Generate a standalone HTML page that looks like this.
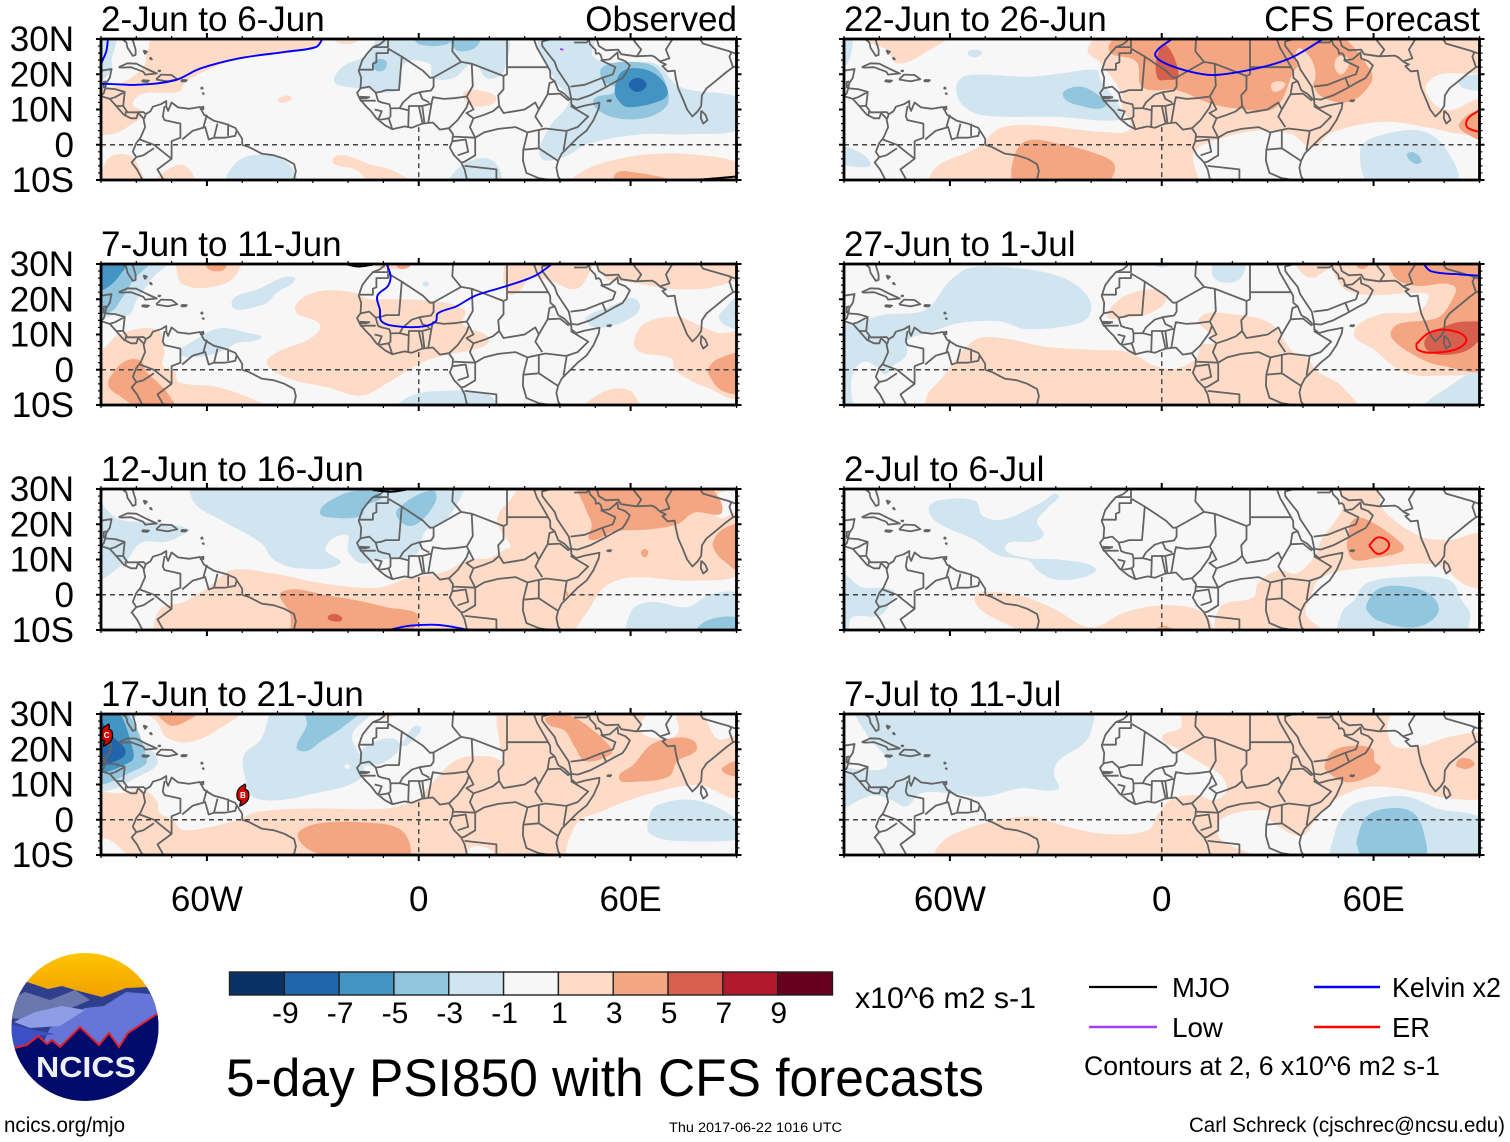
<!DOCTYPE html>
<html lang="en">
<head>
<meta charset="utf-8">
<title>5-day PSI850 with CFS forecasts</title>
<style>
html,body{margin:0;padding:0;background:#fff;}
svg{display:block;}
text{font-family:"Liberation Sans",Arial,sans-serif;fill:#000;}
</style>
</head>
<body>
<svg id="chart" xmlns="http://www.w3.org/2000/svg" width="1510" height="1142" viewBox="0 0 1510 1142">
  <defs id="defs">
    <clipPath id="logo-clip"><ellipse cx="85" cy="1027" rx="73.5" ry="74"/></clipPath>
    <linearGradient id="logo-sky-gradient" x1="0" y1="0" x2="0" y2="1">
      <stop offset="0" stop-color="#ffc800"/>
      <stop offset="1" stop-color="#f2a000"/>
    </linearGradient>
  </defs>
  <rect width="1510" height="1142" fill="#fff"/>
  <g id="panels"></g>
  <g id="colorbar"></g>

  <g>
    <g clip-path="url(#logo-clip)">
      <rect x="10" y="950" width="150" height="48" fill="url(#logo-sky-gradient)"/>
      <path d="M10 980 L27 982 L48 989 L62 986 L75 990 L102 997 L126 988 L148 987 L160 990 V1060 H10 Z" fill="#2f3f8e"/>
      <path d="M10 1000 L25 992 L50 1000 L75 990 L90 1000 L62 1012 L30 1020 L10 1018 Z" fill="#6b78ae"/>
      <path d="M50 1028 L85 1008 L104 1006 L126 992 L150 994 L160 1010 V1050 H40 Z" fill="#6676d8"/>
      <path d="M14 1022 L35 1012 L62 1006 L85 1010 L60 1026 L30 1028 Z" fill="#8f9ce6"/>
      <path d="M10 1024 L35 1030 L55 1034 L40 1036 L27 1045 L10 1050 Z" fill="#3a4fc8"/>
      <path d="M10 1049 L14.5 1048 L27 1045 L38 1036 L47 1044 L52 1040 L60 1047 L80 1027 L99 1045 L109 1033 L119 1047 L128 1033 L160 1012 V1102 H10 Z" fill="#000b6b"/>
      <path d="M10 1049 L14.5 1048 L27 1045 L38 1036 L47 1044 L52 1040 L60 1047 L80 1027 L99 1045 L109 1033 L119 1047 L128 1033 L160 1012" fill="none" stroke="#e0202a" stroke-width="2"/>
    </g>
    <text x="36" y="1077" font-size="29" font-weight="bold" style="fill:#eef0f6" textLength="100" lengthAdjust="spacingAndGlyphs">NCICS</text>
  </g>

  <text x="855" y="1008" font-size="30" textLength="181" lengthAdjust="spacingAndGlyphs">x10^6 m2 s-1</text>
  <text x="226" y="1096" font-size="53" textLength="758" lengthAdjust="spacingAndGlyphs">5-day PSI850 with CFS forecasts</text>

  <g>
    <line x1="1089" y1="987" x2="1157" y2="987" stroke="#000" stroke-width="2.2"/>
    <text x="1172" y="997" font-size="28" textLength="58" lengthAdjust="spacingAndGlyphs">MJO</text>
    <line x1="1089" y1="1027" x2="1157" y2="1027" stroke="#a040f0" stroke-width="2.6"/>
    <text x="1172" y="1037" font-size="28" textLength="51" lengthAdjust="spacingAndGlyphs">Low</text>
    <line x1="1314" y1="987" x2="1380" y2="987" stroke="#0000ff" stroke-width="2.4"/>
    <text x="1392" y="997" font-size="28" textLength="109" lengthAdjust="spacingAndGlyphs">Kelvin x2</text>
    <line x1="1314" y1="1027" x2="1380" y2="1027" stroke="#ff0000" stroke-width="2.4"/>
    <text x="1392" y="1037" font-size="28" textLength="38" lengthAdjust="spacingAndGlyphs">ER</text>
    <text x="1084" y="1075" font-size="27" textLength="356" lengthAdjust="spacingAndGlyphs">Contours at 2, 6 x10^6 m2 s-1</text>
  </g>

  <text x="4" y="1132" font-size="21" textLength="121" lengthAdjust="spacingAndGlyphs">ncics.org/mjo</text>
  <text x="669" y="1132" font-size="13.5" textLength="173" lengthAdjust="spacingAndGlyphs">Thu 2017-06-22 1016 UTC</text>
  <text x="1189" y="1132" font-size="21" textLength="316" lengthAdjust="spacingAndGlyphs">Carl Schreck (cjschrec@ncsu.edu)</text>
</svg>

<script>
// ---------- colour scale ----------
const colorbarColors = ['#0a3163','#2166ac','#4393c3','#92c5de','#d1e5f0','#f7f7f7','#fddbc7','#f4a582','#d6604d','#b2182b','#67001f'];
const colorbarLabels = ['-9','-7','-5','-3','-1','1','3','5','7','9'];

// ---------- axis ticks ----------
const xMajorTicks = [-60, 0, 60];
const xMajorLabels = ['60W', '0', '60E'];
const yMajorTicks = [30, 20, 10, 0, -10];
const yMajorLabels = ['30N', '20N', '10N', '0', '10S'];

// ---------- geography (lon,lat pairs) ----------
const coastlines = [
 [-10,31,-9.8,29.5,-11,28.5,-13,27.7,-14.5,26,-16,24,-17,21,-16.3,19,-16.5,16,-17.5,14.7,-16.7,13,-15,11,-13.5,9.5,-12,7.5,-9.5,5.5,-7.5,4.4,-4,5.2,-2,4.8,1,6,4,6.3,6,4.3,8.5,4.7,9.7,3,9.5,1,8.8,-0.8,10,-3,12,-5,13,-7,13.8,-10.5],
 [32.6,30,33.5,27.5,35.5,24,37.2,21,37.3,19,38.5,18,39.5,15.5,41.2,14.5,43.2,12.5,43.2,11.5,44.5,10.4,47,11.1,51.2,11.9,51,10.4,49.5,7,47.5,4,45,2,42.5,-0.5,40.5,-2.5,39.5,-4.5,39,-6.5,39.5,-9,40.5,-10.5],
 [34.9,29.5,35,28,36.5,26,38.5,23.5,39.2,21.5,40.5,19.5,42.5,16.5,43.2,13,45,12.8,48.5,14,52,15.8,55,17.5,57.7,18.9,58.8,20.5,59.8,22.5,58.5,23.7,56.5,24.5,56.3,26.2,55.5,25.5,54,24.2,52,24,51.5,25.5,51,26,50.2,25.8,50,27,48.5,28.5,48,30.5],
 [49,30.5,50.5,29.8,51,28,53,26.8,56.5,27,57.3,25.7,61.5,25.1,66,25.3,67,24.8,68.5,23.5,70,22.8,69,22.3,70.5,20.8,72.5,21,72.8,19,73.5,16,74.8,13,76,10,77.5,8,79,9.5,80,11,80.2,14,81.5,16,84,18,87,20.5,89,22,91,22.5],
 [80,9.7,81.2,8.5,81.8,7,80.6,6,79.9,7.5,80,9.7],
 [53.4,12.6,54.5,12.6,54.2,12.3,53.4,12.4,53.4,12.6],
 [-81.4,31,-80.2,27,-80.2,25.5,-81,25.2,-82.5,27.5,-82.8,29,-84,30,-86,30.5],
 [-90,21,-87,21.5,-87.5,19,-88.5,17.5,-88.8,16,-86,15.8,-83.3,15,-83.7,11,-82.5,9.2,-80,9.2,-78,9.3,-77.3,8.7,-76,9.5,-75.3,10.8,-73,11.5,-71.5,12.4,-71.5,10.8,-71,9.6,-70,12,-68.2,10.6,-65,10.2,-62,10.7,-60.8,8.5,-58,6.8,-55,6,-52,4.8,-50,1.7,-50,0,-48,-0.7,-44.5,-2.5,-41,-3,-38,-4,-35.3,-5.5,-34.8,-7.5,-35.5,-10.5],
 [-92,14.6,-90,13.8,-87.5,13,-85.7,11,-83.5,8.5,-81.5,7.5,-80,7.5,-79.5,9,-78,7.5,-77.5,5,-78.8,2,-80,0.5,-81,-2,-80,-3.5,-81.3,-5,-79.8,-7,-78.5,-9.5,-78,-10.5],
 [-85,22,-82.5,23.1,-80,23,-77,21.5,-74.2,20.2,-77.5,19.9,-78,20.7,-81.5,22,-84,21.9,-85,22],
 [-74.4,18.5,-73,19.9,-70,19.8,-68.4,18.6,-71,18,-72,18.1,-74.4,18.5],
 [-78.3,18.3,-76.4,18.2,-77,17.8,-78.3,18,-78.3,18.3],
 [-67.2,18.4,-65.7,18.3,-66,18,-67.2,18,-67.2,18.4],
 [-61.5,16.4,-61.2,16,-61.6,15.9,-61.5,16.4],
 [-61,14.8,-60.9,14.4,-61.2,14.5,-61,14.8],
 [-61.8,10.6,-61,10.8,-61,10.1,-61.8,10.1,-61.8,10.6],
 [-78,26.8,-77,26.4,-77.5,25.8,-78,26.8],
 [-76,24.8,-75.6,24.2,-76.1,24.4,-76,24.8],
 [-73.9,21,-73.2,21,-73.4,20.8,-73.9,21]
];
const borders = [
 [-8.7,31,-8.7,27.7,-13,27.7],
 [-8.7,27.3,-8.7,26,-12,26,-12,23.4,-13,23,-13,21.3,-17,21.3],
 [-8.7,27.3,-4.8,25,-5.6,15.5,-9.3,15.5,-10.8,15,-12.2,14.8,-14,16.5,-16.5,16],
 [-4.8,25,1.2,21,3.2,19,4.2,19.1,12,23.5,9.5,26.5,9.8,31],
 [4.2,19.1,4.2,16.5,3.5,15.4,0.2,14.9,-2,14.2,-4.5,12,-5.4,10.4,-8,10.3,-8.3,11.5,-10.5,12,-11.5,12.4,-12.2,14.8],
 [3.6,11.7,4,13.5,7,13,10,13.2,13.6,13.7,15.3,16.7,15,23,12,23.5],
 [15,23,24,19.5,24,15.7,22.5,14,22.8,11,21,9.5,18.5,8.5,15.5,7.5,14.5,5,16,2,18.5,3.5,22.5,4.5,27.4,5,30.8,3.5,34,4.2,35.9,4.6],
 [24,19.5,25,20,25,31],
 [25,22,36.9,22],
 [13.6,13.7,14.5,12,15.5,10,13.5,9,15.5,7.5],
 [22.8,11,24,9,27,9.5,30,10,33,12,34,10,33,8,35,5],
 [34,10,36.5,14.3,37,17.5,38.5,18],
 [36.5,14.3,40,14.5,42.5,12.5],
 [43,11,48,8,45,5,42,4,41.9,3.9,35.9,4.6],
 [41.9,3.9,41,-1.7],
 [34,-1,39.5,-4.6],
 [34,4.2,34,-1,29.6,-1.4,30.8,3.5],
 [9.8,2.3,16,2,16,-3,13,-4.8,12.2,-5],
 [13,-6,22,-7,22,-10.5],
 [29.6,-1.4,29.5,-4.5,30.5,-8,34,-9.5,40.5,-10.5],
 [2.7,6.3,3.6,11.7],
 [1.6,6.2,1,11],
 [1.1,6,0,11],
 [-3,5,-2.8,11,1,11,3.6,11.7],
 [0.2,14.9,1,13,3,12],
 [-7.5,4.4,-8.5,7.5,-11.5,7],
 [-12.5,10,-10.5,9.5,-11.5,7],
 [-8,10.3,-8,8,-8.5,7.5],
 [-5.4,10.4,-3,9.8],
 [8.6,4.7,11,7,13.5,10.5,14.2,12.5],
 [-16.7,12.5,-12.2,12.5],
 [-16.7,13.6,-14,13.5,-15,13.2,-16.7,13.2],
 [9.7,1,13.3,1.5,14,-2,11,-3],
 [43,16.5,47,17,52,19,55,20,55.7,22,51.5,24],
 [52,19,53,16.5],
 [35,29.3,37.5,30,39,31],
 [44,29,47.5,29,48,29.5],
 [61.7,25,63,27,61,29.5,62,31],
 [68.5,23.7,71,24.5,70,27,72.5,31],
 [79,31,80.5,28.7,88,26.5,88.5,26,88,25,89,22],
 [88,26.5,92,25],
 [-72,11,-72.5,8,-72,7,-67.5,6,-67.5,2,-70,1,-70,-4,-74,-7,-72,-10.5],
 [-67,1.5,-64,4,-60.5,5,-59.5,1.5,-58,2,-55,2,-52,2.5,-51.5,4.3],
 [-57,6,-58,2],
 [-54,6,-54,2.5],
 [-60,8.5,-61,5],
 [-79,1.5,-75,0,-70,-4],
 [-80,-3.5,-78,-3,-75,-1],
 [-83.3,15,-86,13.5,-87.5,13],
 [-85.7,11,-83.7,11],
 [-83,9.5,-83,8.5],
 [-77.3,8.7,-77.8,7.3],
 [-88.8,16,-89.2,14.6,-90,13.8],
 [-88.5,18,-89.2,17.8,-89.2,16],
 [-92,18,-91,17,-91,16,-92,15.5]
];

// ---------- PSI850 filled contours: [value, lon,lat, lon,lat, ...] ----------
const field2Jun = [
 [2,-74,32,-26,32,-32,27,-51,24.5,-66,18,-68,15,-78,14.5,-81,11.5,-78,9,-81,6,-87,3,-92,4,-92,14.5,-85,17,-78,22,-77,26],
 [2,-25,32,-16,32,-18,29,-23,29],
 [2,-89,-12,-88,-4,-82,-3,-79,-7,-78,-12],
 [2,-75,-12,-71,-7,-66,-6,-64,-12],
 [2,-24,-3.5,-21,-3,-14,-5.5,-7,-7.5,-2,-12,-12,-12,-18,-7,-24,-5.5],
 [2,-39,13.5,-37,14,-36,13,-38,12,-40,12.5],
 [2,13,15,19,15,22,13,19,11,14,11.5],
 [2,41,-12,44,-9,51,-5.5,64,-2.8,78,-2.8,92,-6,92,-12],
 [4,56,-12,56,-8,62,-8,70,-9.5,78,-12],
 [-2,-92,32,-86,32,-87,24,-87,21,-92,18],
 [-2,-24,18.8,-21,22.6,-14.5,25.4,-10,32,24,32,24,20.7,19.5,18.8,15.5,23,10,19,4,19,3,23,-4,23,-6,15.5,-16.5,16,-23,17],
 [-2,34.5,32,49.5,32,49.5,25,57.5,23,67,23,74,16.4,92,12.6,92,5,76.6,3,63,3,48,0.3,41,-3.5,34.5,-3.5,37,5,42.6,12.6,38.5,18.3],
 [-2,-54,-12,-51,-4.5,-42,-3,-36,-6.4,-35,-12],
 [-2,9,-12,12.7,-5.5,21,-4.5,22.5,-12],
 [-4,52,18.3,52,22,59,23.5,67,22,70.5,15.5,70,10.7,63,7.4,53.5,8.3,49.5,12.6,56,15.5],
 [-4,9,32,17,32,16.5,28,12,26.5,9.5,28],
 [-4,-1,31,9,31,8,28.5,0,28.5],
 [-4,-13,23.5,-9.5,24,-9.5,21.5,-12,21],
 [-6,55.5,15.5,57.5,20.7,63,21.6,68,19.3,70.5,14.5,67,12,59,10.7,56.5,12.6],
 [-8,59.5,17,62,19,64.5,17,62,15]
];
const field7Jun = [
 [2,-68,32,-51,32,-52.5,26,-60,23.3,-67,24.3,-68.5,28],
 [2,-35,17,-29.4,22,-18.8,22,-14,20,-9.3,20,3.7,19.5,13,17,12.5,12.8,19,9.9,19.6,7.5,15,5.6,9.6,4.6,1.3,2.2,-9.3,-4,-16.4,-7.4,-25.8,-5,-36.4,-2.6,-43,1.7,-40,5,-30.5,9,-28,12.8],
 [2,26,32,48.5,32,47,25,43.7,22.8,38,25,32,26,28.4,22.3,25.5,21.4,24,26],
 [2,51,32,53,26,59,25,68.5,23.3,73,22.8,82.7,23.3,92,27,92,32],
 [2,61,8,64,13.2,73.2,15,79,12.8,85,10.4,92,10,92,-7.4,81.5,-5,72.6,-0.2,71.5,3.2,62.6,5],
 [2,-92,6,-89.3,6,-85,10,-74,11.3,-72,5,-72.5,1.2,-69,-0.7,-68,-3.5,-56.5,-5,-43.5,-10,-43,-12,-92,-12],
 [2,47,-12,52,-6.4,60,-6,61.5,-12],
 [2,-14,32,-3,32,-5,29,-11,29],
 [4,-60,32,-54.5,32,-55,28.5,-58,28,-60,29],
 [4,-87.7,-2.6,-83.6,2.2,-79,2.7,-77,-0.7,-74,-3.5,-70.6,-7.4,-69,-12,-77,-12,-84.8,-7.4,-87.7,-5],
 [4,82,0.3,85,3.2,92,4,92,-6,86,-6,82.5,-2],
 [4,-6,32,-1,32,-3,29,-6,29],
 [-2,-92,32,-70.6,32,-75.4,26,-80,19.5,-82,15.6,-86,15.6,-92,14.7],
 [-2,-53,18.5,-44.5,23.3,-37.6,26.4,-35,25.5,-40,22,-44,18.5],
 [-2,-67.7,5,-63.5,8.4,-56.5,11.8,-48,10.4,-44.7,9,-51.7,7.5,-55,5.6,-60,4,-66,3.6],
 [-2,-7,-12,-2.2,-7.4,7,-6,17.8,-6.4,21.3,-8.3,22.5,-12],
 [-2,47.3,14.7,54.4,18,60.3,20.4,62.6,18.5,61.4,15.6,54.4,12.3,49,12.3],
 [-2,86,16.6,92,21,92,11.8,87.4,12.3,85,14.7],
 [-2,1,24.5,2,25,3,24.3,2,23.6],
 [-4,-92,32,-76,32,-80.7,25.7,-84,20.4,-87,16.6,-92,16],
 [-4,89.5,16,92,18,92,14],
 [-6,-92,32,-82.4,32,-84.8,26.7,-88.3,23.3,-92,22.3]
];
const field12Jun = [
 [2,-73.6,-12,-73.6,-4.5,-66.5,-2,-59.4,2.2,-53,7,-41,6,-27,3.2,-11.7,2,-3.4,4.6,7.2,6.5,14.3,10,20,10.4,24.3,12.8,26,13.7,22.5,19.5,22.5,22.8,26,27,30.8,32,92,32,82.7,27,85,21.9,92,23.3,92,7,78,4,60.3,4.9,52.6,2.2,47.3,-5.5,40.8,-12],
 [2,-90,-9,-88,-12,-92,-12],
 [-2,-64,32,11.5,32,8.4,21.9,1.9,18,-1,11.3,-11.7,9.9,-16.4,8.9,-20,12.3,-20.5,17,-26.4,13.2,-22.3,8.9,-34,7.5,-41,9.9,-44.7,14.7,-56.4,21.4,-63.5,26],
 [-2,-92,26,-85,21.4,-73.5,20.4,-65,18.5,-66.8,17,-71.6,15,-78.7,14.7,-83.6,8.9,-92,5],
 [-2,60,-12,60.3,-4.5,66,-2,76,-3.5,83,0.3,92,-0.7,92,-12],
 [-4,-28,23.3,-24.6,27,-17,29.7,-10.5,28.2,-15,25.2,-16.4,22.3,-24.6,21.9],
 [-4,-4,26,1.3,29,4.8,29,3.6,24.3,-2.2,19.5,-6.4,22.8],
 [-4,78.5,-12,81.5,-7.4,92,-7,92,-12],
 [4,45.5,32,47.3,24.3,49,20,48.5,15.6,55.5,18,65,18.5,73.2,20,78,23.3,86,23.8,79,32],
 [4,83.3,14.7,86,18.5,92,19.5,92,7,86,9.9,84,12.3],
 [4,63,12,64,13,65,12,64,10.6],
 [4,-38.8,0.8,-25.8,-0.2,-9.3,-3.5,0,-7,-10.5,-12,-35,-12,-36.4,-5.5],
 [4,41.8,1,42.3,0.6,42.2,-0.4,41.8,-0.2],
 [6,-25.8,-6.4,-23.4,-5.5,-21.7,-7,-24,-7.6]
];
const field17Jun = [
 [2,-78.3,32,-50,32,-56.7,25.7,-65,22,-71.6,23.5,-74,27.6],
 [2,-9.3,32,-3.4,32,-7,29.5,-10,29],
 [2,-92,7,-84.8,7.5,-77.7,8.4,-74,5,-73.6,2.2,-69.5,-0.2,-67,-2.8,-61,-2.4,-51.7,-0.2,-45.9,2.2,-30.5,3.2,-9.3,3.2,0,6,2.5,8.9,10.7,17,20,18,24.3,17,23,20.4,24,32,65,32,62.6,26,66,23.3,73.2,24.3,73.2,32,80,32,82,27,85,22.8,92,23.8,92,7,79,9.9,66,7.5,58,5,51.4,2.2,45.5,-0.2,42.6,-5.5,39.6,-12,-78,-12,-88,-5.5,-92,-5],
 [0,14,-12,14.6,-8,20,-8.3,22,-12],
 [-2,-40,32,-13,32,-18.8,24.3,-17,18.5,-15.8,12.3,-28,7.8,-46,6,-49.6,13.7,-49.4,18.5,-44.7,22.8],
 [-2,-16.4,19.5,-10.5,22.8,-5.8,22.3,-6.4,18.9,-11.7,15.6,-16.4,16],
 [-2,-3.4,23.8,-1,26.7,0.7,26,-1,23.3,-4.6,20.9],
 [-2,-92,32,-80,32,-81,26,-74,17,-77.5,13.2,-92,9.5],
 [-2,65,-0.2,67.3,4,78,5.6,88.6,1.2,92,-3.5,92,-5.5,73.2,-6,65.5,-4],
 [0,-21,15,-20.3,15.7,-19.5,15,-20.3,14.4],
 [-4,-92,32,-84,32,-77,17,-80,14.2,-92,11.3],
 [-4,-34.6,20.4,-31.7,27,-32,32,-16.4,32,-21,26.7,-28,22,-31.7,19.5],
 [-6,-92,32,-86,32,-81,20,-81.5,16.5,-92,14.7],
 [-8,-92,28,-86,23,-83,19.5,-85,17,-92,16],
 [4,-74,32,-61.8,32,-66.5,27.6,-71,27],
 [4,-34,-3.5,-28,-1,-16.4,-0.7,-5.8,-2.4,-2.5,-7,-3.4,-12,-16.4,-12,-29.4,-9.3,-33.5,-6.4],
 [4,36,29,42.6,29.5,49.6,25.2,54.4,20.4,54.4,18.5,47.3,16.6,44.3,20.4,41.4,25.2,36.7,27],
 [4,56.7,11.8,60.8,15.6,66,21.4,73.2,23.3,78,22.3,78.5,19.5,73.2,16.6,70.9,12.3,61.4,10.8],
 [4,86,14.7,92,16.6,92,12.8,87.4,12.8]
];
const field22Jun = [
 [2,-84,32,-60,32,-66.4,26.5,-74.8,23,-78,27,-82.4,29],
 [2,-65.2,-12,-64,-6.4,-52,-0.7,-46,4.6,-35.3,5.5,-16,3.6,-9,4.6,-11.4,10.8,-11.4,14.6,-17.3,23.1,-21,27,-15,32,92,32,92,21.7,78.3,19.8,74.8,15.5,80.7,9.8,92,12.7,92,3.6,84.3,3.1,77,4.6,62.8,6.5,48.4,3.6,42.5,-0.7,36.5,3.1,27,4,15,1.2,9,-2.6,9.6,-12],
 [4,-15,27,-9,32,42.5,32,49.6,32,59.2,21,59.2,17.4,53.2,12.2,44.9,14,41.3,20.8,38.3,22,34,12.7,30.5,9.8,21,10.3,13.8,11.7,4.2,15.5,-5.4,16.3,-7.2,23.6],
 [2,38.3,27,42.5,24,43,17.4,40,19.3],
 [2,50,25,53,24,51,20,49,22],
 [2,31,17,33,18,35,17,32,15],
 [6,-1.2,25.5,1.2,28.4,4.8,19.3,1.8,18.4,-1.2,18.9],
 [4,-42.5,-6.4,-38.9,0.8,-29.3,0.3,-16,-3.5,-13.2,-6.4,-16,-11,-30,-12,-41,-12],
 [4,84.3,6,92,9.3,92,1.7,88,2.2],
 [-2,-92,32,-88,32,-89,23,-92,23],
 [-2,-92,-0.7,-86.7,-1.6,-82.5,-5.4,-85.5,-6.4,-92,-4.5],
 [-2,-55,26,-53,27,-51,26,-53,24.8],
 [-2,-58,17.4,-54.4,19.8,-37.7,19.3,-28,20.3,-18.5,21.2,-17.3,18.4,-11.4,9.8,-12.6,7,-29.3,7.9,-50.8,8.4,-56.8,11.7],
 [-2,56.2,-1.6,60.4,2.2,74.8,3.6,83,-5.4,83,-12,59.8,-12],
 [-2,84.3,18.4,92,19.8,92,16,85.5,16],
 [-4,-28,14,-23.3,16.5,-17.3,13.6,-16,10.8,-22,10.8],
 [-4,69.4,-3,71.2,-2.1,73.6,-4.5,71.8,-5.4]
];
const field27Jun = [
 [-2,-92,11.3,-84.8,13.7,-79,15.6,-67,17,-60,25.2,-54,29,-38.8,28.6,-27,25.7,-20.5,20,-21,14.7,-27.6,12.3,-38.8,11.6,-45.9,13.7,-57.7,13.2,-66,10.4,-71.8,8.4,-72.4,4,-76.5,0.8,-78.3,-1.4,-80.7,0.8,-84.8,2.2,-87.7,-2,-87.7,-8.5,-86.5,-12,-92,-12],
 [-2,-4,32,4.2,32,0,29],
 [-2,14.3,27,16,32,23,32,22.5,26.2,17.8,24.7],
 [-2,74.4,-12,80.3,-5.5,92,-1,92,-12],
 [2,-80,32,-76,32,-78,29.5],
 [2,-66.5,-7.4,-62.4,-2.6,-53,8.4,-44.7,8.9,-33,6.5,-18.8,5.6,-9.3,5,-2.2,1.2,3.7,0.3,9.6,3,11.3,7,14.9,8,10.7,14.7,21.3,15.6,30.8,13.2,34.9,8,37.3,5,41.4,3.2,43.7,-0.2,50.8,-4.5,55.3,-12,-66,-12],
 [2,-15.2,16.6,-10.5,20.9,-2.2,22.8,1.3,20,-3.4,16,-10.5,14.7,-15.2,14.7],
 [2,37.9,32,40.2,27,43.7,26.4,48.5,32],
 [2,54.4,10.4,61.4,15.6,72.6,16.6,75.6,20.9,73.2,21.9,58,21.2,50.8,23.8,49.6,32,92,32,92,2.2,75.6,-1.8,67.3,0,60.3,5.6],
 [4,65,32,66,26.2,72,23.8,82.7,23.8,81.5,18.5,78,14.7,66.7,12.8,65,9.4,71.5,4.1,79,1.2,92,1.2,92,32],
 [4,55,32,59,32,58,29,55.5,29],
 [6,74.4,7,75.6,9.9,81.5,12.8,86.2,13.7,92,12.3,88.6,7,83.8,4.6,76.8,4.6]
];
const field2Jul = [
 [-2,-66,24.3,-63.5,26.7,-53,26.7,-50.6,22.3,-44.7,21.4,-34,26.2,-29.4,28.4,-32.3,24.7,-35.3,20.9,-33.5,17,-36.4,15.1,-43.5,14.7,-44,12.3,-37.6,10.4,-28.2,9.9,-18.8,7.5,-22.3,4.9,-30.5,4.4,-35.3,7,-37.6,9.6,-46.5,11.3,-53,15.6,-63.5,20.4],
 [-2,-92,6,-85,2.2,-76,1.2,-77,-2.6,-80,-6,-87.7,-6.4,-89,-10,-92,-12],
 [-2,54.4,-1.6,57.9,3.2,68.4,5,81.5,4.1,85,-1.6,87.4,-6,84.4,-12,50.8,-12,51,-5],
 [-4,57.9,-3,61.4,1.7,68.5,2.4,75.6,0.3,78.5,-4,75.6,-7.9,69.7,-9.3,61.4,-7.4,58.5,-5],
 [2,37.9,6,42.6,9.9,45.5,16,50.8,23.8,51.4,32,60.3,32,62.6,24.3,73.2,16.6,81.5,15.6,92,16.6,92,2.7,86.2,2.7,78,8.4,60.3,7.8,49.6,6.5,44.3,4.1,42.6,0.3,40.8,-5.5,46.7,-12,16.6,-12,16.6,-3.5,26,-0.7,27.2,3.2,33,7],
 [4,52.6,15.6,54.4,21.4,59,20.9,68.3,14.2,68.1,12.3,60.3,10.4,54.4,9.9,52.6,12.8],
 [2,-53,-0.7,-50,0.8,-40,-0.2,-30.5,-4,-20,-9.3,-10.5,-5,0,-3,9.6,-4,13.7,-7.4,14,-12,-15,-12,-35,-12,-42,-9.3,-51,-4.5],
 [4,-2.5,-12,0.7,-8.8,4,-12]
];
const field7Jul = [
 [-2,-86,32,-20,32,-20,25.2,-22.3,21.4,-29.4,16.6,-30.5,12.8,-29.4,8.7,-40,8.9,-50.6,6.5,-60,7.5,-68.3,7.5,-72.4,3.8,-76.5,5.6,-81.3,7,-84.8,6,-92,3.6,-92,14,-84.8,14.2,-78.3,14.7,-78.3,18,-83,23.3],
 [-2,48.5,-5.5,52.6,3.2,60.3,6,69.7,6.5,78,3.2,92,-0.7,92,-12,48.5,-12],
 [-4,55.3,-5.5,57.9,0.8,63.8,3.2,70.9,2.2,74.2,-3.5,73.8,-12,57.9,-12,55.3,-7.4],
 [2,6,32,5.4,26.2,0,23.3,4.8,20,11.9,15.6,16.6,12.8,18.4,8.4,14.9,5.6,9.6,7,2.5,5.6,-1,1.7,-4,-3,-16.4,-4,-28.2,-1.6,-36.4,0.8,-47,-0.2,-58.8,-4,-63.6,-7.9,-64,-12,29.6,-12,16.6,-5.5,17,0.3,29.6,2.7,30.8,-0.2,39.6,-4.5,43.7,0.3,49.6,6,59,9.4,73.2,7.8,81.5,6,92,7.5,92,23.3,82.7,23.8,73.2,20.9,66,20.9,63.8,26.2,64.4,32],
 [4,46.1,15.1,48.5,19.5,54.4,21,59.7,20,60.3,16.6,62,14.7,59,12.3,52.6,10.6,47.9,12.8],
 [4,83.3,15.6,85,17.5,88.6,16.1,86.8,14.5,84.4,14.7]
];

// ---------- filtered wave contours: lon,lat lists ----------
const kelvin2Jun = [[-88,30.5,-88.5,26.5,-90,23],[-90,17.2,-88.6,17.3,-80,17,-69,18.3,-62,21.6,-51,24.5,-37.5,26.4,-29,27.8,-27,30.5]];
const kelvin7Jun = [[-9.3,30.5,-8,26.7,-8.7,23.8,-11.7,21,-11,17,-10.5,13.7,-5.8,12.3,1.3,12.3,4.8,13.7,5.4,16,10.7,18,16,21,25,23.8,33,26.7,38.4,30.5]];
const kelvin12Jun = [[-9.3,-10.2,-4,-9,0,-8.6,6,-8.6,15.4,-10.2]];
const kelvin22Jun = [[3.6,30.5,-1.8,26,0,23.6,7.8,20.8,15,19.8,27,21.7,36.5,24.6,46,30.2]];
const kelvin27Jun = [[73.8,30.5,76.2,28,85,27,90,26.7]];
const mjo2Jun = [[76,-10,82,-9.7,90,-9]];
const mjo7Jun = [[-21,30,-17,29.3,-13,29.8]];
const mjo12Jun = [[-13,29.7,-8,29.2,-3.5,29.8]];
const er22Jun = [[90,9.8,86.7,7.4,86.5,5,90,3.6]];
const er27Jun = [[72,7.2,75.6,10.4,80.9,11.3,86.2,8.9,83.8,6,76.8,4.8,72.6,5.6,72,7.2]];
const er2Jul = [[58.7,14,61.4,16.3,64.4,14.2,61.4,11.6,58.7,14]];
const low2Jun = [[40,27.1,41,27]];

// ---------- storm symbols ----------
const storms17Jun = [{letter:'C', lon:-88.4, lat:24},{letter:'B', lon:-49.8, lat:7}];

const panelTitles = ['2-Jun to 6-Jun','7-Jun to 11-Jun','12-Jun to 16-Jun','17-Jun to 21-Jun','22-Jun to 26-Jun','27-Jun to 1-Jul','2-Jul to 6-Jul','7-Jul to 11-Jul'];
const panelFields = [field2Jun,field7Jun,field12Jun,field17Jun,field22Jun,field27Jun,field2Jul,field7Jul];
const panelKelvin = [kelvin2Jun,kelvin7Jun,kelvin12Jun,[],kelvin22Jun,kelvin27Jun,[],[]];
const panelMjo = [mjo2Jun,mjo7Jun,mjo12Jun,[],[],[],[],[]];
const panelEr = [[],[],[],[],er22Jun,er27Jun,er2Jul,[]];
const panelLow = [low2Jun,[],[],[],[],[],[],[]];
const panelStorms = [[],[],[],storms17Jun,[],[],[],[]];
const panelSideLabels = ['Observed','','','','CFS Forecast','','',''];

// ---------- layout and axis functions ----------
const NS = 'http://www.w3.org/2000/svg';
const plotLeft = [101, 844], plotWidth = 635.5, plotTop = 39, plotHeight = 141, rowStep = 225;
const labelSize = 35;
const xAxis = (col, lon) => plotLeft[col] + (lon + 90) * plotWidth / 180;
const yAxis = (row, lat) => plotTop + rowStep * row + (30 - lat) * plotHeight / 40;

function mk(tag, attrs, parent) {
  const el = document.createElementNS(NS, tag);
  for (const k in attrs) el.setAttribute(k, attrs[k]);
  parent.appendChild(el);
  return el;
}
function toPoints(flat, col, row) {
  const pts = [];
  for (let i = 0; i + 1 < flat.length; i += 2) pts.push([xAxis(col, flat[i]), yAxis(row, flat[i + 1])]);
  return pts;
}
function smoothPath(pts, closed) {
  const n = pts.length;
  const at = i => closed ? pts[(i + n) % n] : pts[Math.max(0, Math.min(n - 1, i))];
  const dir = i => {
    const a = at(i - 1), b = at(i + 1);
    const dx = b[0] - a[0], dy = b[1] - a[1], l = Math.hypot(dx, dy) || 1;
    return [dx / l, dy / l];
  };
  let d = 'M' + pts[0][0].toFixed(1) + ' ' + pts[0][1].toFixed(1);
  const segs = closed ? n : n - 1;
  for (let i = 0; i < segs; i++) {
    const p = at(i), q = at(i + 1);
    const len = Math.hypot(q[0] - p[0], q[1] - p[1]) / 3;
    const d1 = dir(i), d2 = dir(i + 1);
    d += ' C' + (p[0] + d1[0] * len).toFixed(1) + ' ' + (p[1] + d1[1] * len).toFixed(1) + ' ' +
         (q[0] - d2[0] * len).toFixed(1) + ' ' + (q[1] - d2[1] * len).toFixed(1) + ' ' +
         q[0].toFixed(1) + ' ' + q[1].toFixed(1);
  }
  return d + (closed ? ' Z' : '');
}
function linePath(pts) {
  return 'M' + pts.map(p => p[0].toFixed(1) + ' ' + p[1].toFixed(1)).join(' L');
}
function colorFor(v) {
  const i = Math.max(0, Math.min(colorbarColors.length - 1, Math.floor((v + 11) / 2)));
  return colorbarColors[i];
}

// ---------- panels ----------
const panelsRoot = document.getElementById('panels');
const defs = document.getElementById('defs');

panelTitles.forEach(function (title, idx) {
  const col = idx < 4 ? 0 : 1, row = idx % 4;
  const L = xAxis(col, -90), R = xAxis(col, 90), T = yAxis(row, 30), B = yAxis(row, -10);
  const g = mk('g', {}, panelsRoot);
  
  

  const clip = mk('clipPath', {id: 'clip-' + idx}, defs);
  mk('rect', {x: L, y: T, width: R - L, height: B - T}, clip);

  const bg = mk('rect', {x: L, y: T, width: R - L, height: B - T, fill: colorbarColors[5]}, g);
  
  

  const plot = mk('g', {'clip-path': 'url(#clip-' + idx + ')'}, g);
  
  

  panelFields[idx].forEach(function (shape) {
    const value = shape[0];
    const pts = toPoints(shape.slice(1), col, row);
    const p = mk('path', {d: smoothPath(pts, true), fill: colorFor(value)}, plot);
    
    
  });

  let geo = '';
  coastlines.concat(borders).forEach(function (line) { geo += linePath(toPoints(line, col, row)) + ' '; });
  const map = mk('path', {d: geo, fill: 'none', stroke: '#636363', 'stroke-width': 1.8, 'stroke-linejoin': 'round'}, plot);
  
  

  // reference lines (ocean only, not across Africa)
  const eq1 = mk('line', {x1: L, x2: xAxis(col, 9), y1: yAxis(row, 0), y2: yAxis(row, 0), stroke: '#444', 'stroke-width': 1.4, 'stroke-dasharray': '5 4'}, plot);
  
  
  const eq2 = mk('line', {x1: xAxis(col, 43), x2: R, y1: yAxis(row, 0), y2: yAxis(row, 0), stroke: '#444', 'stroke-width': 1.4, 'stroke-dasharray': '5 4'}, plot);
  
  
  const pm = mk('line', {x1: xAxis(col, 0), x2: xAxis(col, 0), y1: yAxis(row, 5), y2: B, stroke: '#444', 'stroke-width': 1.4, 'stroke-dasharray': '5 4'}, plot);
  
  

  panelKelvin[idx].forEach(function (c) {
    const k = mk('path', {d: smoothPath(toPoints(c, col, row), false), fill: 'none', stroke: '#0000ff', 'stroke-width': 1.9}, plot);
    
    
  });
  panelMjo[idx].forEach(function (c) {
    const m = mk('path', {d: smoothPath(toPoints(c, col, row), false), fill: 'none', stroke: '#000', 'stroke-width': 1.9}, plot);
    
    
  });
  panelEr[idx].forEach(function (c) {
    const e = mk('path', {d: smoothPath(toPoints(c, col, row), false), fill: 'none', stroke: '#ff0000', 'stroke-width': 1.9}, plot);
    
    
  });
  panelLow[idx].forEach(function (c) {
    const l = mk('path', {d: linePath(toPoints(c, col, row)), fill: 'none', stroke: '#a040f0', 'stroke-width': 1.8}, plot);
    
    
  });

  // storms
  panelStorms[idx].forEach(function (s) {
    const cx = xAxis(col, s.lon), cy = yAxis(row, s.lat);
    const sg = mk('g', {transform: 'translate(' + cx.toFixed(1) + ' ' + cy.toFixed(1) + ')'}, g);
    
    
    const swirl = mk('path', {d: 'M2 -11 C-1 -9 -6 -7 -6 0 C-6 5 -3 6 -2 6 C-3 8 -3 10 -3 11 C1 9 6 7 6 0 C6 -5 3 -6 2 -6 C3 -8 3 -10 2 -11 Z', fill: '#d40000', stroke: '#000', 'stroke-width': 1.2}, sg);
    
    
    const st = mk('text', {x: 0, y: 3, 'font-size': 8, 'font-weight': 'bold', 'text-anchor': 'middle', style: 'fill:#fff'}, sg);
    st.textContent = s.letter;
    
    
  });

  // frame
  const frame = mk('rect', {x: L, y: T, width: R - L, height: B - T, fill: 'none', stroke: '#000', 'stroke-width': 2.8}, g);
  
  

  // ticks
  let minor = '', major = '';
  for (let lon = -90; lon <= 90; lon += 10) {
    const x = xAxis(col, lon);
    minor += 'M' + x + ' ' + (T - 3) + 'V' + T + 'M' + x + ' ' + B + 'V' + (B + 3);
  }
  xMajorTicks.forEach(function (lon) {
    const x = xAxis(col, lon);
    major += 'M' + x + ' ' + (T - 6) + 'V' + T + 'M' + x + ' ' + B + 'V' + (B + 6);
  });
  for (let lat = -10; lat <= 30; lat += 2) {
    const y = yAxis(row, lat);
    minor += 'M' + (L - 3) + ' ' + y + 'H' + L + 'M' + R + ' ' + y + 'H' + (R + 3);
  }
  yMajorTicks.forEach(function (lat) {
    const y = yAxis(row, lat);
    major += 'M' + (L - 5) + ' ' + y + 'H' + L + 'M' + R + ' ' + y + 'H' + (R + 5);
  });
  const minorEl = mk('path', {d: minor, stroke: '#000', 'stroke-width': 1.2, fill: 'none'}, g);
  
  
  const majorEl = mk('path', {d: major, stroke: '#000', 'stroke-width': 2, fill: 'none'}, g);
  
  

  // labels
  const tt = mk('text', {x: L, y: T - 8, 'font-size': labelSize}, g);
  tt.textContent = title;
  
  
  if (panelSideLabels[idx]) {
    const sl = mk('text', {x: R + 0.5, y: T - 8, 'font-size': labelSize, 'text-anchor': 'end'}, g);
    sl.textContent = panelSideLabels[idx];
    
    
  }
  if (col === 0) {
    yMajorTicks.forEach(function (lat, i) {
      const yl = mk('text', {x: 74, y: yAxis(row, lat) + 12, 'font-size': labelSize, 'text-anchor': 'end'}, g);
      yl.textContent = yMajorLabels[i];
      
      
    });
  }
  if (row === 3) {
    xMajorTicks.forEach(function (lon, i) {
      const xl = mk('text', {x: xAxis(col, lon), y: 911, 'font-size': labelSize, 'text-anchor': 'middle'}, g);
      xl.textContent = xMajorLabels[i];
      
      
    });
  }
});

// ---------- colorbar ----------
const cbRoot = document.getElementById('colorbar');
const cbX = 229.5, cbW = 603, cbY = 972, cbH = 23, cbStep = cbW / colorbarColors.length;
colorbarColors.forEach(function (c, i) {
  const r = mk('rect', {x: cbX + i * cbStep, y: cbY, width: cbStep, height: cbH, fill: c, stroke: '#222', 'stroke-width': 1.4}, cbRoot);
  
  
});
colorbarLabels.forEach(function (t, i) {
  const l = mk('text', {x: cbX + (i + 1) * cbStep + 1, y: 1023, 'font-size': 30, 'text-anchor': 'middle'}, cbRoot);
  l.textContent = t;
  
  
});
</script>
</body>
</html>
